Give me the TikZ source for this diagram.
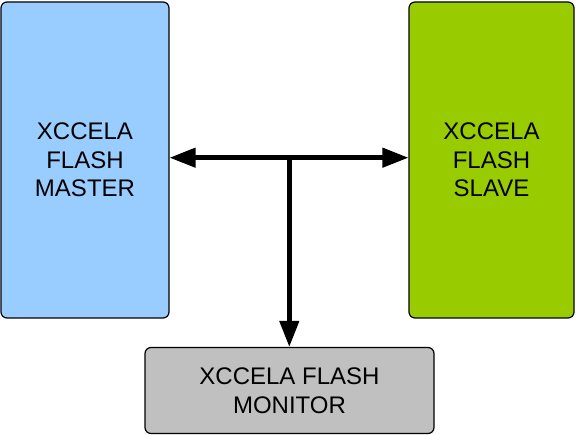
\documentclass[tikz,border=0pt]{standalone}
\usepackage{fontspec}
\setmainfont{Liberation Sans}
\usetikzlibrary{arrows.meta}
\definecolor{mblue}{HTML}{99CCFF}
\definecolor{sgreen}{HTML}{99CC00}
\definecolor{mgray}{HTML}{C0C0C0}
\tikzset{
  blockbox/.style={draw=black, line width=1.2pt, rounded corners=6pt, inner sep=0pt, align=center,
    font=\fontsize{24}{28.5}\selectfont},
  busline/.style={line width=4.5pt, -{Triangle[length=26pt,width=19pt]}},
}
\begin{document}
\begin{tikzpicture}[x=1pt,y=-1pt]
\useasboundingbox (0,0) rectangle (576,435);
\node[blockbox, fill=mblue, minimum width=168pt, minimum height=316pt] (master) at (85,160) {XCCELA\\FLASH\\MASTER};
\node[blockbox, fill=sgreen, minimum width=165pt, minimum height=316pt] (slave) at (491.5,160) {XCCELA\\FLASH\\SLAVE};
\node[blockbox, fill=mgray, minimum width=289pt, minimum height=86pt] (monitor) at (289.5,390.5) {XCCELA FLASH\\MONITOR};
\coordinate (j) at (289.3,157.7);
\draw[busline] (j) -- (master.east |- j);
\draw[busline] (j) -- (slave.west |- j);
\draw[busline, shorten <=-2.25pt] (j) -- (j |- monitor.north);
\end{tikzpicture}
\end{document}
